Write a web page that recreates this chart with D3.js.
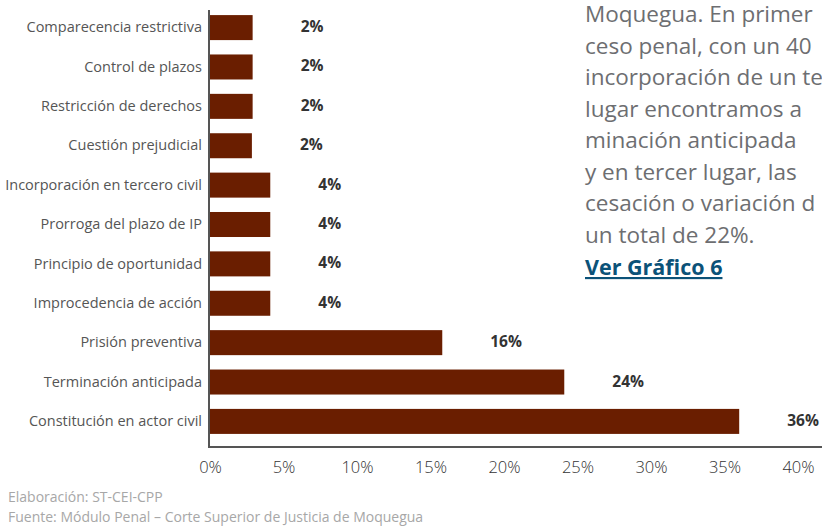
<!DOCTYPE html>
<html><head><meta charset="utf-8">
<script src="https://cdn.jsdelivr.net/npm/d3@7"></script>
<style>
html,body{margin:0;padding:0;background:#fff;}
svg{display:block;}
</style></head>
<body>
<svg id="chart" width="822" height="528"></svg>
<script>
const categories = [
  "Comparecencia restrictiva",
  "Control de plazos",
  "Restricción de derechos",
  "Cuestión prejudicial",
  "Incorporación en  tercero civil",
  "Prorroga del plazo de IP",
  "Principio de oportunidad",
  "Improcedencia de acción",
  "Prisión preventiva",
  "Terminación anticipada",
  "Constitución en actor civil"
];
const values = [2.9, 2.9, 2.9, 2.85, 4.1, 4.1, 4.1, 4.1, 15.8, 24.1, 36.0];
const valueLabels = ["2%","2%","2%","2%","4%","4%","4%","4%","16%","24%","36%"];
const tickValues = [0,5,10,15,20,25,30,35,40];
const paragraphLines = [
  "Moquegua. En primer",
  "ceso penal, con un 40",
  "incorporación de un te",
  "lugar encontramos a",
  "minación anticipada",
  "y en tercer lugar, las",
  "cesación o variación d",
  "un total de 22%."
];
const linkText = "Ver Gráfico 6";
const footerLines = [
  "Elaboración: ST-CEI-CPP",
  "Fuente: Módulo Penal – Corte Superior de Justicia de Moquegua"
];

const FONT = "'Open Sans', 'Noto Sans', sans-serif";
const svg = d3.select("#chart");

const x = d3.scaleLinear().domain([0, 40]).range([210, 798]);
const y = d3.scaleBand().domain(categories).range([8, 441]).paddingInner(0.365).paddingOuter(0.18);

// bars
svg.append("g").selectAll("rect").data(values).join("rect")
  .attr("x", x(0))
  .attr("y", (d,i) => y(categories[i]))
  .attr("width", d => x(d) - x(0))
  .attr("height", y.bandwidth())
  .attr("fill", "#6a1e00");

// value labels
svg.append("g").selectAll("text").data(values).join("text")
  .attr("x", d => x(d) + 48)
  .attr("y", (d,i) => y(categories[i]) + y.bandwidth()/2 - 1.5)
  .attr("dominant-baseline", "central")
  .attr("font-family", FONT)
  .attr("font-weight", "bold")
  .attr("font-size", 15.5)
  .attr("fill", "#333")
  .text((d,i) => valueLabels[i]);

// y axis
const yAxis = d3.axisLeft(y).tickSize(0).tickPadding(7);
const gy = svg.append("g").attr("transform", `translate(${x(0)-1},0)`).call(yAxis);
gy.select(".domain").remove();
gy.selectAll("text").attr("font-family", FONT).attr("font-size", 14.5).attr("fill", "#555");
svg.append("line").attr("x1", x(0)-1).attr("x2", x(0)-1).attr("y1", 10).attr("y2", 447)
  .attr("stroke", "#555").attr("stroke-width", 2);

// x axis
const xAxis = d3.axisBottom(x).tickValues(tickValues).tickFormat(d => d + "%").tickSize(0).tickPadding(14);
const gx = svg.append("g").attr("transform", `translate(0,447)`).call(xAxis);
gx.select(".domain").remove();
gx.selectAll("text").attr("font-family", FONT).attr("font-size", 16.5).attr("fill", "#333").attr("font-weight", 300);
svg.append("line").attr("x1", x(0)-2).attr("x2", 822).attr("y1", 447).attr("y2", 447)
  .attr("stroke", "#555").attr("stroke-width", 2);

// paragraph text
const para = svg.append("g");
para.selectAll("text").data(paragraphLines).join("text")
  .attr("x", 585)
  .attr("y", (d,i) => 22 + i*31.5)
  .attr("font-family", FONT)
  .attr("font-size", 22.5)
  .attr("fill", "#6d6e71")
  .text(d => d);
para.append("text")
  .attr("x", 585).attr("y", 22 + 8*31.5 + 1)
  .attr("font-family", FONT).attr("font-size", 21.5).attr("font-weight", "bold")
  .attr("fill", "#0b5278").attr("text-decoration", "underline")
  .text(linkText);

// footer
svg.append("g").selectAll("text").data(footerLines).join("text")
  .attr("x", 8)
  .attr("y", (d,i) => 502 + i*20)
  .attr("font-family", FONT)
  .attr("font-size", 14)
  .attr("fill", "#a7a7a7")
  .text(d => d);
</script>
</body></html>
